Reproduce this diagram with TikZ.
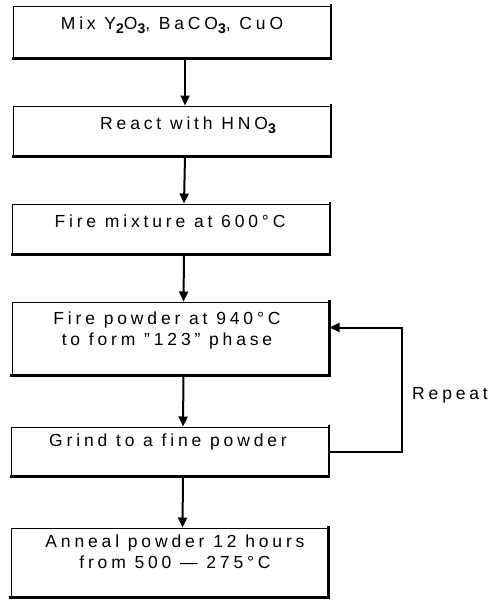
\documentclass[tikz,border=0pt]{standalone}
\usepackage{fontspec}
\setmainfont[LetterSpace=22]{Liberation Sans}
\usetikzlibrary{arrows.meta}
\newcommand\chsub[1]{\raisebox{-4pt}{\fontsize{14}{14}\selectfont\bfseries #1}}
\begin{document}
\begin{tikzpicture}[x=1pt,y=-1pt,
  stepbox/.style={draw,line width=1pt,minimum width=317pt,inner sep=0pt},
  steptext/.style={inner sep=0pt,align=center,font=\fontsize{17.5}{21}\selectfont},
  flow/.style={-{Triangle[length=10pt,width=9pt]},line width=2pt},
  shadow/.style={line width=2.4pt,line cap=rect}]
\path[use as bounding box] (0,0) rectangle (490,600);
\path[fill=white,draw=none] (0,0) rectangle (490,600);
% process boxes
\node[stepbox,minimum height=52pt] (b1) at (172,32) {};
\node[stepbox,minimum height=50pt] (b2) at (172,131) {};
\node[stepbox,minimum height=50pt] (b3) at (171,229) {};
\node[stepbox,minimum height=73pt] (b4) at (170.5,338.5) {};
\node[stepbox,minimum height=49pt] (b5) at (170,451.5) {};
\node[stepbox,minimum height=69pt] (b6) at (169.5,562.5) {};
\foreach \b in {b1,b2,b3,b4,b5,b6}
  \draw[shadow] (\b.north east) -- (\b.south east) -- (\b.south west);
% step labels
\node[steptext] (t1) at (172,25) {Mix Y\chsub{2}O\chsub{3}, BaCO\chsub{3}, CuO};
\node[steptext] (t2) at (188,125) {React with HNO\chsub{3}};
\node[steptext] (t3) at (170,221) {Fire mixture at 600°C};
\node[steptext] (t4) at (167,330) {Fire powder at 940°C\\to form "123" phase};
\node[steptext] (t5) at (168,442) {Grind to a fine powder};
\node[steptext] (t6) at (175,552) {Anneal powder 12 hours\\from 500 --- 275°C};
% flow
\foreach \a/\b in {b1/b2,b2/b3,b3/b4,b4/b5,b5/b6}
  \draw[flow] ([xshift=13pt]\a.south) -- ([xshift=13pt]\b.north);
\coordinate (loop) at (402,451.5);
\draw[flow] (b5.east) -- (loop) |- ([yshift=11pt]b4.east);
\node[steptext,anchor=west] (rep) at (412,395) {Repeat};
\end{tikzpicture}
\end{document}
